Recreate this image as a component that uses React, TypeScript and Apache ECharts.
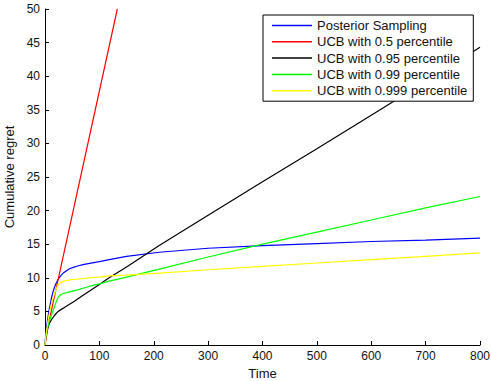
import React, { useEffect, useRef } from "react";
import * as echarts from "echarts";

const times = [0, 1, 2, 3, 4, 6, 8, 10, 12, 14, 17, 20, 23, 26, 30, 35, 40, 45, 52, 60, 70, 82, 100, 118, 150, 210, 300, 400, 500, 600, 700, 800];
const posterior = [0, 1.2, 2.0, 2.7, 3.3, 4.4, 5.4, 6.2, 7.0, 7.7, 8.5, 9.1, 9.6, 10.0, 10.4, 10.8, 11.1, 11.35, 11.55, 11.75, 11.95, 12.15, 12.4, 12.7, 13.2, 13.8, 14.4, 14.8, 15.1, 15.4, 15.6, 15.9];
const ucb999 = [0, 1.0, 1.6, 2.2, 2.8, 3.8, 4.7, 5.5, 6.2, 6.75, 7.5, 8.2, 8.8, 9.15, 9.35, 9.5, 9.6, 9.7, 9.75, 9.8, 9.9, 10.0, 10.1, 10.3, 10.4, 10.7, 11.2, 11.7, 12.2, 12.7, 13.2, 13.7];
const ucb99 = [0, 0.9, 1.4, 1.9, 2.3, 3.0, 3.6, 4.1, 4.5, 4.9, 5.6, 6.3, 6.9, 7.3, 7.55, 7.7, 7.8, 7.9, 8.05, 8.2, 8.45, 8.75, 9.1, 9.5, 10.1, 11.3, 13.1, 15.0, 16.8, 18.6, 20.4, 22.1];
const ucb95 = [0, 0.8, 1.3, 1.8, 2.2, 2.8, 3.2, 3.5, 3.8, 4.0, 4.35, 4.65, 4.9, 5.1, 5.3, 5.55, 5.8, 6.05, 6.4, 6.85, 7.4, 8.05, 9.0, 10.0, 11.6, 14.8, 19.3, 24.3, 29.2, 34.2, 39.2, 44.3];
const redTimes = [0, 5, 10, 20, 133];
const ucb05 = [0, 2.4, 4.5, 8.2, 50];

const seriesNames = [
  "Posterior Sampling",
  "UCB with 0.5 percentile",
  "UCB with 0.95 percentile",
  "UCB with 0.99 percentile",
  "UCB with 0.999 percentile",
];
const xTicks = [0, 800, 100];
const yTicks = [0, 50, 5];

const pairs = (xs: number[], ys: number[]) => xs.map((x, i) => [x, ys[i]]);

export default function App() {
  const ref = useRef<HTMLDivElement>(null);
  useEffect(() => {
    if (!ref.current) return;
    const chart = echarts.init(ref.current, undefined, { renderer: "svg" });
    const font = "'Liberation Sans', Arial, Helvetica, sans-serif";
    const axisCommon = {
      axisLine: { show: true, lineStyle: { color: "#000", width: 1 } },
      axisTick: { show: true, inside: true, length: 4, lineStyle: { color: "#000" } },
      splitLine: { show: false },
      axisLabel: { color: "#111", fontSize: 12, fontFamily: font },
      nameTextStyle: { color: "#111", fontSize: 13, fontFamily: font },
    };
    const mk = (name: string, color: string, data: number[][]) => ({
      name,
      type: "line",
      data,
      showSymbol: false,
      symbol: "none",
      smooth: false,
      lineStyle: { color, width: 1.2 },
      itemStyle: { color },
      clip: true,
    });
    chart.setOption({
      animation: false,
      backgroundColor: "#fff",
      grid: { left: 45, top: 9, right: 11, bottom: 36, containLabel: false, outerBoundsMode: "none" },
      xAxis: {
        type: "value",
        min: xTicks[0],
        max: xTicks[1],
        interval: xTicks[2],
        name: "Time",
        nameLocation: "middle",
        nameGap: 20,
        ...axisCommon,
        axisLabel: { ...axisCommon.axisLabel, margin: 5 },
      },
      yAxis: {
        type: "value",
        min: yTicks[0],
        max: yTicks[1],
        interval: yTicks[2],
        name: "Cumulative regret",
        nameLocation: "middle",
        nameGap: 22,
        ...axisCommon,
        axisLabel: { ...axisCommon.axisLabel, margin: 5 },
      },
      legend: {
        show: true,
        orient: "vertical",
        left: 263,
        top: 15,
        padding: [3, 6, 3, 9],
        itemGap: 1.3,
        itemWidth: 40,
        itemHeight: 1.5,
        icon: "rect",
        borderColor: "#000",
        borderWidth: 1,
        backgroundColor: "#fff",
        textStyle: { color: "#111", fontSize: 13, fontFamily: font, lineHeight: 15 },
        data: seriesNames,
      },
      series: [
        mk(seriesNames[0], "#0000ff", pairs(times, posterior)),
        mk(seriesNames[1], "#ff0000", pairs(redTimes, ucb05)),
        mk(seriesNames[2], "#000000", pairs(times, ucb95)),
        mk(seriesNames[3], "#00ff00", pairs(times, ucb99)),
        mk(seriesNames[4], "#ffff00", pairs(times, ucb999)),
      ],
    });
    return () => chart.dispose();
  }, []);
  return <div ref={ref} style={{ width: 491, height: 381, position: "absolute", left: 0, top: 0 }} />;
}
